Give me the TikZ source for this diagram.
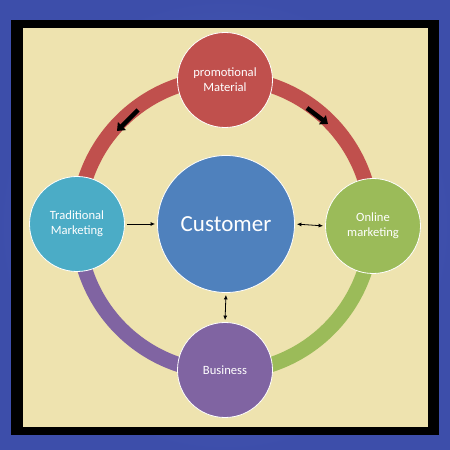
\documentclass[tikz,border=0pt]{standalone}
\usepackage{fontspec}
\setmainfont{Carlito}
\usetikzlibrary{arrows.meta}
\definecolor{cream}{HTML}{EEE3AF}
\definecolor{framblue}{RGB}{64,82,178}
\definecolor{cred}{HTML}{C0504D}
\definecolor{cteal}{HTML}{4BACC6}
\definecolor{cblue}{HTML}{4F81BD}
\definecolor{cgreen}{HTML}{9BBB59}
\definecolor{cpurple}{HTML}{8064A2}
\tikzset{
  bubble/.style={circle, draw=white, line width=0.8pt, minimum size=95pt, inner sep=0pt,
    text=white, font=\fontsize{12.6}{15}\selectfont, align=center},
  ring/.style={line width=15pt},
  bigarrow/.style={line width=4.5pt, -{Triangle[length=7pt,width=11pt]}},
  smallarrow/.style={line width=0.8pt, -{Latex[length=4.5pt,width=4pt]}},
  smallboth/.style={line width=0.8pt, {Latex[length=4.5pt,width=4pt]}-{Latex[length=4.5pt,width=4pt]}}
}
\begin{document}
\begin{tikzpicture}[x=1pt,y=1pt]
\useasboundingbox (0,0) rectangle (450,450);
% frame
\fill[framblue] (0,0) rectangle (450,450);
\shade[inner color=framblue!75!white, outer color=framblue!90!black, opacity=0.4] (0,0) rectangle (450,450);
\fill[black] (11,15) rectangle (439,430);
\fill[cream] (23,23) rectangle (428,422);
% ring
\coordinate (rc) at (225,225);
\draw[ring, cred] (rc) ++(180:147) arc[start angle=180, end angle=0, radius=147];
\draw[ring, cgreen] (rc) ++(0:147) arc[start angle=0, end angle=-90, radius=147];
\draw[ring, cpurple] (rc) ++(-90:147) arc[start angle=-90, end angle=-180, radius=147];
% big arrows
\coordinate (a1s) at (138,340); \coordinate (a1e) at (117,319);
\coordinate (a2s) at (307,342); \coordinate (a2e) at (328,326);
\draw[bigarrow] (a1s) -- (a1e);
\draw[bigarrow] (a2s) -- (a2e);
% nodes
\node[bubble, fill=cred] (promo) at (225,370) {promotional\\Material};
\node[bubble, fill=cteal] (trad) at (77,226) {Traditional\\Marketing};
\node[bubble, fill=cgreen] (online) at (373,224) {Online\\marketing};
\node[bubble, fill=cpurple] (bus) at (225,80) {Business};
\node[bubble, fill=cblue, minimum size=137pt, font=\fontsize{23}{26}\selectfont] (cust) at (226,226) {Customer};
% small arrows
\draw[smallarrow, shorten <=2pt, shorten >=2pt] (trad.east) -- (cust.west);
\draw[smallboth, shorten <=2pt, shorten >=2pt] (cust.east) -- (online.west);
\draw[smallboth, shorten <=2pt, shorten >=2pt] (cust.south) -- (bus.north);
\end{tikzpicture}
\end{document}
